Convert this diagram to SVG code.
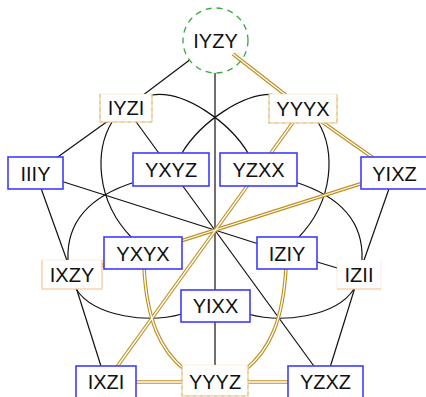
<svg xmlns="http://www.w3.org/2000/svg" xmlns:xlink="http://www.w3.org/1999/xlink" width="426" height="397" viewBox="0 0 426 397">
  <style>
    .lbl { font-family: "Liberation Sans", Arial, sans-serif; font-size: 20px; fill: #111; text-anchor: middle; }
    .plain { fill: none; stroke: #111; stroke-width: 1.2; }
    .box { fill: #fff; stroke: #3c3cff; stroke-width: 1.6; }
    .soft { fill: #fff; stroke: none; }
    .softedge { fill: none; stroke: #f6bf86; stroke-width: 1.1; }
    .softtop { fill: none; stroke: #f6bf86; stroke-width: 1; opacity: 0.25; }
    .softdash { fill: none; stroke: #98c763; stroke-width: 1.1; stroke-dasharray: 3 4; opacity: 0.55; }
    .ring { fill: none; stroke: #3aaa3a; stroke-width: 1.3; stroke-dasharray: 6 5; }
  </style>
  <defs>
    <!-- double (gold) edges: shared geometry, stroked twice -->
    <g id="goldPaths" fill="none">
      <path d="M233 54 L303 108.5"/>
      <path d="M303 108.5 L394.5 173"/>
      <path d="M106 382 L215 382"/>
      <path d="M215 382 L325.5 382"/>
      <path d="M394.5 173 L143 253"/>
      <path d="M303 108.5 L106 382"/>
      <path d="M72 274.5 L143 253"/>
      <path d="M144 268 C147 320 160 350 185 370"/>
      <path d="M286 268 C283 320 270 350 245 370"/>
    </g>
  </defs>

  <g id="connectors">
    <g class="plain">
      <path d="M189.6 60.1 L126 108"/>
      <path d="M215 73 L215 381"/>
      <path d="M126 108 L35.5 173"/>
      <path d="M394.5 173 L359 274.5"/>
      <path d="M35.5 173 L72 274.5"/>
      <path d="M72 274.5 L106 382"/>
      <path d="M359 274.5 L325.5 382"/>
      <path d="M35.5 173 L287 253"/>
      <path d="M126 108 L325.5 382"/>
      <path d="M287 253 L359 274.5"/>
      <!-- arcs -->
      <path d="M152 95 C185 90 230 123 248 153"/>
      <path d="M278 95 C245 90 200 123 182 153"/>
      <path d="M112 122 C95 150 95 200 132 238"/>
      <path d="M318 122 C335 150 335 200 298 238"/>
      <path d="M68 260 C66 215 100 193 135 182"/>
      <path d="M362 260 C364 215 330 193 295 182"/>
      <path d="M76 289 C95 318 150 323 182 314"/>
      <path d="M354 289 C335 318 280 323 248 314"/>
    </g>
    <use xlink:href="#goldPaths" stroke="#c0901e" stroke-width="3.6"/>
    <use xlink:href="#goldPaths" stroke="#fff" stroke-width="1.3"/>
  </g>

  <g id="IYZY">
    <circle class="ring" cx="215.5" cy="40.5" r="32.5"/>
    <text class="lbl" x="215.5" y="48">IYZY</text>
  </g>
  <g id="IYZI">
    <rect class="soft" x="100" y="94" width="52" height="28"/>
    <path class="softtop" d="M100 94 H152"/>
    <path class="softedge" d="M100 94 V122 H152 V94"/>
    <path class="softdash" d="M100 94 V122 H152 V94"/>
    <text class="lbl" x="126" y="115">IYZI</text>
  </g>
  <g id="YYYX">
    <rect class="soft" x="269" y="94" width="68" height="29"/>
    <path class="softtop" d="M269 94 H337"/>
    <path class="softedge" d="M269 94 V123 H337 V94"/>
    <path class="softdash" d="M269 94 V123 H337 V94"/>
    <text class="lbl" x="303" y="115.5">YYYX</text>
  </g>
  <g id="IIIY">
    <rect class="box" x="8" y="157" width="55" height="32"/>
    <text class="lbl" x="35.5" y="180.5">IIIY</text>
  </g>
  <g id="YXYZ">
    <rect class="box" x="133" y="153" width="76" height="33"/>
    <text class="lbl" x="171" y="176.5">YXYZ</text>
  </g>
  <g id="YZXX">
    <rect class="box" x="220" y="153" width="77" height="33"/>
    <text class="lbl" x="258.5" y="176.5">YZXX</text>
  </g>
  <g id="YIXZ">
    <rect class="box" x="361" y="157" width="68" height="32"/>
    <text class="lbl" x="394.5" y="180.5">YIXZ</text>
  </g>
  <g id="IXZY">
    <rect class="soft" x="42" y="260" width="60" height="29"/>
    <path class="softtop" d="M42 260 H102"/>
    <path class="softedge" d="M42 260 V289 H102 V260"/>
    <text class="lbl" x="72" y="281.5">IXZY</text>
  </g>
  <g id="YXYX">
    <rect class="box" x="104" y="237" width="78" height="32"/>
    <text class="lbl" x="143" y="260.5">YXYX</text>
  </g>
  <g id="IZIY">
    <rect class="box" x="257" y="237" width="60" height="32"/>
    <text class="lbl" x="287" y="260.5">IZIY</text>
  </g>
  <g id="IZII">
    <rect class="soft" x="337" y="260" width="44" height="29"/>
    <path class="softtop" d="M337 260 V289 M381 260 V289"/>
    <path class="softedge" d="M337 289 H381"/>
    <text class="lbl" x="359" y="281.5">IZII</text>
  </g>
  <g id="YIXX">
    <rect class="box" x="181" y="290" width="69" height="32"/>
    <text class="lbl" x="215.5" y="313">YIXX</text>
  </g>
  <g id="IXZI">
    <rect class="box" x="76" y="366" width="60" height="33"/>
    <text class="lbl" x="106" y="389">IXZI</text>
  </g>
  <g id="YYYZ">
    <rect class="soft" x="182" y="365" width="66" height="31"/>
    <path class="softtop" d="M182 365 H248"/>
    <path class="softedge" d="M182 365 V396 H248 V365"/>
    <path class="softdash" d="M182 365 V396 H248 V365"/>
    <text class="lbl" x="215" y="389">YYYZ</text>
  </g>
  <g id="YZXZ">
    <rect class="box" x="288" y="366" width="75" height="33"/>
    <text class="lbl" x="325.5" y="389">YZXZ</text>
  </g>
</svg>
